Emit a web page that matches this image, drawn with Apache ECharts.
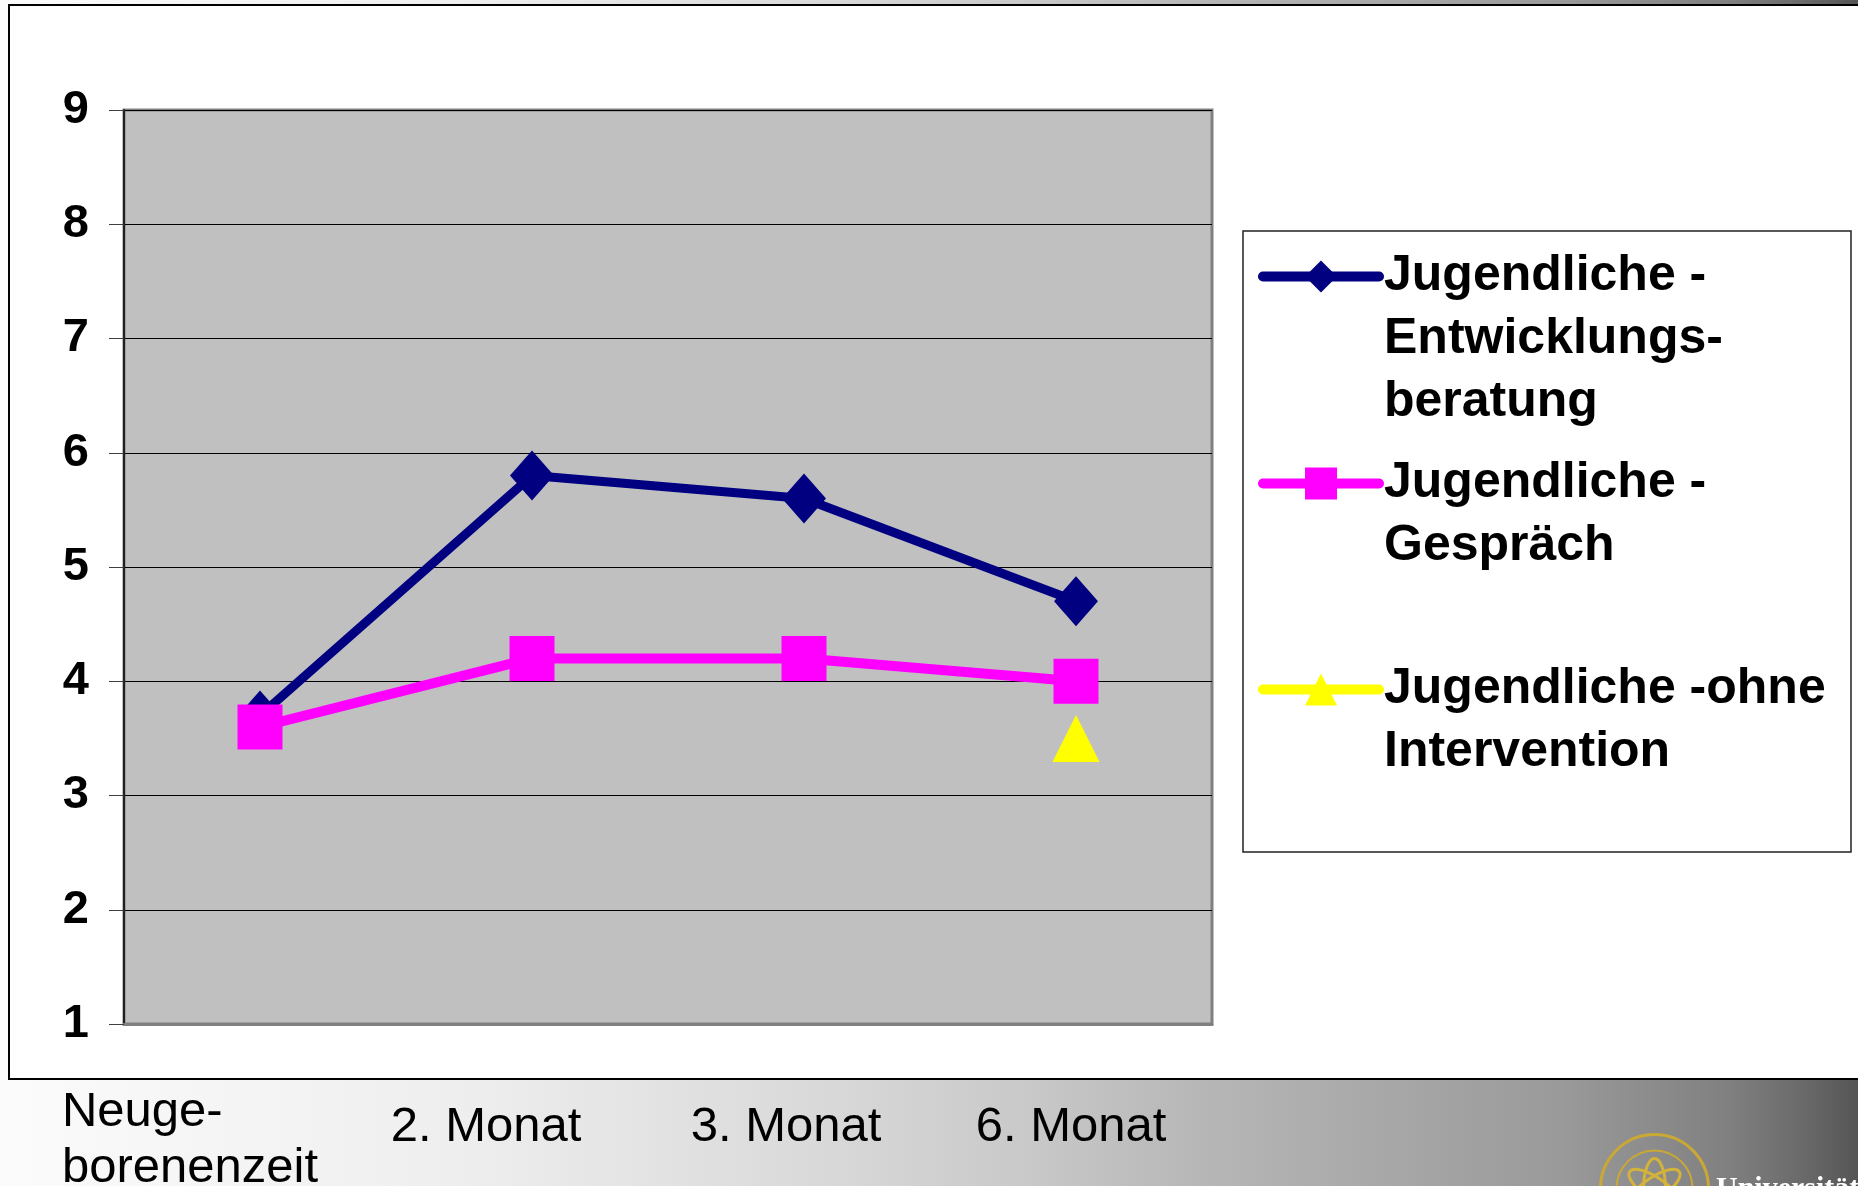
<!DOCTYPE html>
<html>
<head>
<meta charset="utf-8">
<script src="https://cdn.jsdelivr.net/npm/echarts@6/dist/echarts.min.js"></script>
<style>
html, body { margin: 0; padding: 0; }
#wrap {
  position: relative; width: 1858px; height: 1186px; overflow: hidden;
  background: linear-gradient(to right, #fbfbfb 0%, #eeeeee 25%, #d8d8d8 45%, #c9c9c9 55%, #b6b6b6 65%, #a7a7a7 75%, #9a9a9a 84%, #808080 93%, #6a6a6a 97%, #555555 100%);
}
#frame {
  position: absolute; left: 8px; top: 4px; width: 1900px; height: 1076px;
  background: #ffffff; border: 2.5px solid #000000; box-sizing: border-box;
}
#chart { position: absolute; left: 0; top: 0; width: 1858px; height: 1186px; }
</style>
</head>
<body>
<div id="wrap">
  <div id="frame"></div>
  <div id="chart"></div>
</div>
<script>
// ---------- data ----------
const categories = ['Neuge-\nborenenzeit', '2. Monat', '3. Monat', '6. Monat'];
const seriesNames = [
  'Jugendliche -\nEntwicklungs-\nberatung',
  'Jugendliche -\nGespräch',
  'Jugendliche -ohne\nIntervention'
];
const entwicklungsberatung = [3.7, 5.8, 5.6, 4.7];
const gespraech = [3.6, 4.2, 4.2, 4.0];
const ohneIntervention = ['-', '-', '-', 3.5];
const yMin = 1;
const yMax = 9;
const yStep = 1;

// ---------- styling / layout ----------
const boldFont = 'Arial, "Liberation Sans", sans-serif';
const labelFont = 'Arial, "Liberation Sans", sans-serif';
const labelPad = [[0, 140, 0, 0], [15, 92, 0, 0], [15, 36, 0, 0], [15, 10, 0, 0]];
const legendTops = [119, 389, 595];
const legendBlankLines = [2, 1, 1];
const colors = ['#000080', '#FF00FF', '#FFFF00'];

const chart = echarts.init(document.getElementById('chart'), null, { renderer: 'canvas' });

function makeLegend(i) {
  return {
    data: [seriesNames[i]],
    left: 1258,
    top: legendTops[i],
    padding: 0,
    orient: 'vertical',
    itemWidth: 116,
    itemHeight: 40,
    selectedMode: false,
    formatter: name => '\n'.repeat(legendBlankLines[i]) + name,
    lineStyle: { width: 10, cap: 'round' },
    textStyle: {
      fontSize: 50, fontWeight: 'bold', fontFamily: boldFont, color: '#000',
      lineHeight: 63
    }
  };
}

const option = {
  animation: false,
  backgroundColor: 'transparent',
  grid: {
    left: 124, top: 110, right: 1858 - 1212, bottom: 1186 - 1024,
    outerBoundsMode: 'none',
    containLabel: false,
    show: true, backgroundColor: '#C0C0C0', borderColor: '#808080', borderWidth: 3
  },
  legend: [makeLegend(0), makeLegend(1), makeLegend(2)],
  xAxis: {
    type: 'category',
    boundaryGap: true,
    data: categories.map((c, i) => ({ value: c, textStyle: { padding: labelPad[i] } })),
    axisLine: { show: true, lineStyle: { color: '#808080', width: 3 } },
    axisTick: { show: false },
    splitLine: { show: false },
    axisLabel: {
      interval: 0,
      hideOverlap: false,
      margin: 60,
      color: '#000',
      fontFamily: labelFont,
      fontSize: 49,
      lineHeight: 56,
      formatter: v => v.split('\n').map(s => '{l|' + s + '}').join('\n'),
      rich: {
        l: { align: 'left', fontFamily: labelFont, fontSize: 49, lineHeight: 56, color: '#000' }
      }
    }
  },
  yAxis: {
    type: 'value',
    min: yMin, max: yMax, interval: yStep,
    axisLine: { show: true, lineStyle: { color: '#202020', width: 2 } },
    axisTick: { show: true, length: 15, lineStyle: { color: '#404040', width: 1 } },
    splitLine: { show: true, lineStyle: { color: '#000', width: 1 } },
    axisLabel: {
      margin: 35, color: '#000', fontSize: 47, fontWeight: 'bold', fontFamily: boldFont
    }
  },
  series: [
    {
      name: seriesNames[0], type: 'line', data: entwicklungsberatung,
      symbol: 'diamond', symbolSize: [44, 50], showAllSymbol: true,
      lineStyle: { color: colors[0], width: 9 },
      itemStyle: { color: colors[0] },
      z: 2
    },
    {
      name: seriesNames[1], type: 'line', data: gespraech,
      symbol: 'rect', symbolSize: 45, showAllSymbol: true,
      lineStyle: { color: colors[1], width: 10 },
      itemStyle: { color: colors[1] },
      z: 3
    },
    {
      name: seriesNames[2], type: 'line', data: ohneIntervention,
      symbol: 'triangle', symbolSize: [47, 47], showAllSymbol: true,
      lineStyle: { color: colors[2], width: 10 },
      itemStyle: { color: colors[2] },
      z: 4
    }
  ],
  graphic: [
    {
      type: 'rect', silent: true,
      shape: { x: 1243, y: 231, width: 608, height: 621 },
      style: { fill: null, stroke: '#222', lineWidth: 1.5 }
    },
    {
      type: 'group', silent: true, left: 1598, top: 1132,
      children: [
        { type: 'circle', shape: { cx: 55, cy: 56, r: 54 }, style: { fill: null, stroke: '#c9a835', lineWidth: 3 } },
        { type: 'circle', shape: { cx: 55, cy: 56, r: 38 }, style: { fill: null, stroke: '#c9a835', lineWidth: 2 } },
        { type: 'ellipse', shape: { cx: 55, cy: 56, rx: 30, ry: 11 }, rotation: 0.6, originX: 55, originY: 56, style: { fill: null, stroke: '#d4b33a', lineWidth: 3 } },
        { type: 'ellipse', shape: { cx: 55, cy: 56, rx: 30, ry: 11 }, rotation: -0.6, originX: 55, originY: 56, style: { fill: null, stroke: '#d4b33a', lineWidth: 3 } },
        { type: 'ellipse', shape: { cx: 55, cy: 56, rx: 11, ry: 30 }, style: { fill: null, stroke: '#d4b33a', lineWidth: 3 } }
      ]
    },
    {
      type: 'text', silent: true, left: 1716, top: 1174,
      style: { text: 'Universität Ulm', fill: '#ffffff', font: 'bold 30px "Liberation Serif", serif' }
    }
  ]
};
chart.setOption(option);
</script>
</body>
</html>
